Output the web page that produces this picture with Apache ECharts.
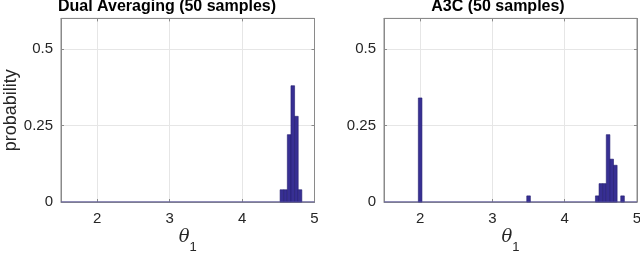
<!DOCTYPE html>
<html>
<head>
<meta charset="utf-8">
<script src="https://cdn.jsdelivr.net/npm/echarts@6/dist/echarts.min.js"></script>
<style>
html,body{margin:0;padding:0;background:#fff;}
#chart{width:640px;height:253px;}
</style>
</head>
<body>
<div id="chart"></div>
<script>
// ---- data ----
const titles = ['Dual Averaging (50 samples)', 'A3C (50 samples)'];
const daTheta = [4.55, 4.6, 4.65, 4.7, 4.75, 4.8];
const daProb  = [0.04, 0.04, 0.22, 0.38, 0.28, 0.04];
const a3cTheta = [2.0, 3.5, 4.45, 4.5, 4.55, 4.6, 4.65, 4.7, 4.8];
const a3cProb  = [0.34, 0.02, 0.02, 0.06, 0.06, 0.22, 0.14, 0.12, 0.02];
const xTicks = [2, 3, 4, 5];
const yTicks = [0, 0.25, 0.5];
const xMin = 1.5, xMax = 5;
const yMin = 0, yMax = 0.6;
const binWidth = 0.05;
const yLabel = 'probability';

// ---- styles ----
const FONT = 'Liberation Sans, Arial, Helvetica, sans-serif';
const AXIS_COLOR = '#8a8a8a';
const TEXT_COLOR = '#262626';
const GRID_COLOR = '#e6e6e6';
const BAR_FILL = '#372f93';
const BAR_EDGE = '#221b6e';

const chart = echarts.init(document.getElementById('chart'), null, {renderer: 'canvas'});

function zip(xs, ys) { return xs.map((x, i) => [x, ys[i]]); }

const gridCommon = {top: 18.4, bottom: 51, show: true, borderColor: AXIS_COLOR, borderWidth: 1,
  backgroundColor: 'transparent', containLabel: false, outerBoundsMode: 'none'};
const grids = [
  Object.assign({left: 61, right: 325.5}, gridCommon),
  Object.assign({left: 384, right: 3}, gridCommon)
];

function mainX(gi) {
  return {
    type: 'value', gridIndex: gi, min: xMin, max: xMax, position: 'bottom',
    name: '{t|θ}{s|1}', nameLocation: 'middle', nameGap: 24, nameMoveOverlap: false,
    nameTextStyle: {
      fontFamily: FONT, color: TEXT_COLOR,
      rich: {
        t: {fontSize: 18, fontStyle: 'italic', fontFamily: 'DejaVu Serif, serif', color: TEXT_COLOR, lineHeight: 22, verticalAlign: 'middle'},
        s: {fontSize: 13, fontFamily: FONT, color: TEXT_COLOR, lineHeight: 15, verticalAlign: 'middle', padding: [20, 0, 0, 0]}
      }
    },
    axisLine: {show: true, onZero: false, lineStyle: {color: AXIS_COLOR, width: 1}},
    axisTick: {show: true, inside: true, length: 3, customValues: xTicks, lineStyle: {color: AXIS_COLOR}},
    axisLabel: {show: true, customValues: xTicks, fontFamily: FONT, fontSize: 15, color: TEXT_COLOR, margin: 9},
    splitLine: {show: true, lineStyle: {color: GRID_COLOR, width: 1}}
  };
}
function topX(gi) {
  return {
    type: 'value', gridIndex: gi, min: xMin, max: xMax, position: 'top',
    axisLine: {show: true, onZero: false, lineStyle: {color: AXIS_COLOR}},
    axisTick: {show: true, inside: true, length: 3, customValues: xTicks, lineStyle: {color: AXIS_COLOR}},
    axisLabel: {show: false},
    splitLine: {show: false}
  };
}
function mainY(gi, withName) {
  return {
    type: 'value', gridIndex: gi, min: yMin, max: yMax, position: 'left',
    name: withName ? yLabel : '', nameLocation: 'middle', nameGap: 35, nameRotate: 90,
    nameTextStyle: {fontFamily: FONT, fontSize: 18, color: TEXT_COLOR},
    axisLine: {show: true, onZero: false, lineStyle: {color: AXIS_COLOR, width: 1}},
    axisTick: {show: true, inside: true, length: 3, customValues: yTicks, lineStyle: {color: AXIS_COLOR}},
    axisLabel: {show: true, customValues: yTicks, fontFamily: FONT, fontSize: 15, color: TEXT_COLOR, margin: 8,
      formatter: v => String(v)},
    splitLine: {show: true, lineStyle: {color: GRID_COLOR, width: 1}}
  };
}
function rightY(gi) {
  return {
    type: 'value', gridIndex: gi, min: yMin, max: yMax, position: 'right',
    axisLine: {show: true, onZero: false, lineStyle: {color: AXIS_COLOR}},
    axisTick: {show: true, inside: true, length: 3, customValues: yTicks, lineStyle: {color: AXIS_COLOR}},
    axisLabel: {show: false},
    splitLine: {show: false}
  };
}

function histSeries(xi, yi, data) {
  return {
    type: 'custom', xAxisIndex: xi, yAxisIndex: yi, data: data, z: 5,
    renderItem: function (params, api) {
      const x = api.value(0), y = api.value(1);
      const p0 = api.coord([x - binWidth / 2, y]);
      const p1 = api.coord([x + binWidth / 2, 0]);
      return {
        type: 'rect',
        shape: {x: p0[0], y: p0[1], width: p1[0] - p0[0], height: p1[1] - p0[1]},
        style: {fill: BAR_FILL, stroke: BAR_EDGE, lineWidth: 0.6}
      };
    }
  };
}
function baseLine(xi, yi) {
  return {
    type: 'line', xAxisIndex: xi, yAxisIndex: yi, data: [[xMin, 0], [xMax, 0]],
    symbol: 'none', z: 6, silent: true,
    lineStyle: {color: '#5a55a8', width: 1.2}
  };
}

const option = {
  animation: false,
  backgroundColor: '#fff',
  grid: grids,
  xAxis: [mainX(0), mainX(1), topX(0), topX(1)],
  yAxis: [mainY(0, true), mainY(1, false), rightY(0), rightY(1)],
  series: [
    histSeries(0, 0, zip(daTheta, daProb)),
    histSeries(1, 1, zip(a3cTheta, a3cProb)),
    baseLine(0, 0),
    baseLine(1, 1)
  ],
  graphic: [
    {type: 'text', x: 167, y: -1, style: {text: titles[0], fontFamily: FONT, fontSize: 16, fontWeight: 'bold', fill: '#000', textAlign: 'center', textVerticalAlign: 'top'}},
    {type: 'text', x: 498, y: -1, style: {text: titles[1], fontFamily: FONT, fontSize: 16, fontWeight: 'bold', fill: '#000', textAlign: 'center', textVerticalAlign: 'top'}}
  ]
};
chart.setOption(option);
</script>
</body>
</html>
